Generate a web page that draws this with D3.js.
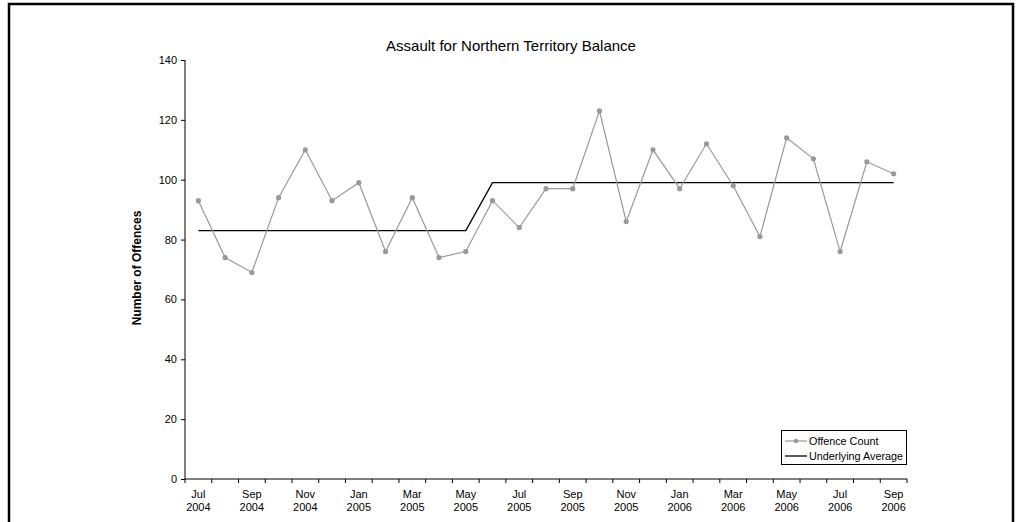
<!DOCTYPE html>
<html><head><meta charset="utf-8">
<script src="https://cdn.jsdelivr.net/npm/d3@7"></script>
<style>body{margin:0;background:#fff}svg{display:block;font-family:"Liberation Sans",Arial,sans-serif}</style>
</head><body><svg id="c" width="1021" height="522"></svg>
<script>
const months = ["Jul 2004","Aug 2004","Sep 2004","Oct 2004","Nov 2004","Dec 2004","Jan 2005","Feb 2005","Mar 2005","Apr 2005","May 2005","Jun 2005","Jul 2005","Aug 2005","Sep 2005","Oct 2005","Nov 2005","Dec 2005","Jan 2006","Feb 2006","Mar 2006","Apr 2006","May 2006","Jun 2006","Jul 2006","Aug 2006","Sep 2006"];
const offenceCount = [93,74,69,94,110,93,99,76,94,74,76,93,84,97,97,123,86,110,97,112,98,81,114,107,76,106,102];
const underlyingAverage = [83,83,83,83,83,83,83,83,83,83,83,99,99,99,99,99,99,99,99,99,99,99,99,99,99,99,99];
const yTicks = [0,20,40,60,80,100,120,140];
const title = "Assault for Northern Territory Balance";
const yLabel = "Number of Offences";

const svg = d3.select("#c");
// outer border
svg.append("rect").attr("x",9).attr("y",4).attr("width",1004).attr("height",530)
  .attr("fill","none").attr("stroke","#000").attr("stroke-width",2.5);

const L=185, R=907, T=60, B=479;
const x = d3.scaleBand().domain(months).range([L,R]).paddingInner(0).paddingOuter(0);
const xc = d => x(d) + x.bandwidth()/2;
const y = d3.scaleLinear().domain([0,140]).range([B,T]);

// y axis
const ya = svg.append("g").attr("transform",`translate(${L},0)`)
  .call(d3.axisLeft(y).tickValues(yTicks).tickSize(4).tickPadding(4));
ya.select(".domain").attr("stroke","#000").attr("d",`M0,${T}V${B}`);
ya.selectAll(".tick line").attr("stroke","#000");
ya.selectAll("text").attr("font-size","11px").attr("font-family","Liberation Sans, Arial").attr("fill","#000");

// x axis
const xa = svg.append("g").attr("transform",`translate(0,${B})`);
xa.append("line").attr("x1",L).attr("x2",R).attr("stroke","#000");
const tickPos = months.map(m=>x(m)).concat([R]);
xa.selectAll("line.t").data(tickPos).enter().append("line").attr("class","t")
  .attr("x1",d=>d).attr("x2",d=>d).attr("y1",0).attr("y2",4).attr("stroke","#000");
const lab = xa.selectAll("text.l").data(months.filter((m,i)=>i%2===0)).enter().append("text")
  .attr("class","l").attr("text-anchor","middle").attr("font-size","11px").attr("fill","#000");
lab.append("tspan").attr("x",d=>xc(d)).attr("y",19).text(d=>d.split(" ")[0]);
lab.append("tspan").attr("x",d=>xc(d)).attr("y",32).text(d=>d.split(" ")[1]);

// underlying average
svg.append("path").datum(underlyingAverage)
  .attr("fill","none").attr("stroke","#000").attr("stroke-width",1.3)
  .attr("d",d3.line().x((d,i)=>xc(months[i])).y(d=>y(d)));

// offence count
svg.append("path").datum(offenceCount)
  .attr("fill","none").attr("stroke","#999").attr("stroke-width",1.2)
  .attr("d",d3.line().x((d,i)=>xc(months[i])).y(d=>y(d)));
svg.selectAll("circle.p").data(offenceCount).enter().append("circle").attr("class","p")
  .attr("cx",(d,i)=>xc(months[i])).attr("cy",d=>y(d)).attr("r",2.6).attr("fill","#999");

// title
svg.append("text").attr("x",511).attr("y",51).attr("text-anchor","middle")
  .attr("font-size","15px").attr("fill","#000").text(title);
// y label
svg.append("text").attr("transform","translate(141,268) rotate(-90)").attr("text-anchor","middle")
  .attr("font-size","12px").attr("font-weight","bold").attr("fill","#000").text(yLabel);

// legend
const lg = svg.append("g");
lg.append("rect").attr("x",781.5).attr("y",430.5).attr("width",125).attr("height",34)
  .attr("fill","#fff").attr("stroke","#000").attr("stroke-width",1);
lg.append("line").attr("x1",785).attr("x2",807).attr("y1",441).attr("y2",441).attr("stroke","#999").attr("stroke-width",1.2);
lg.append("circle").attr("cx",796).attr("cy",441).attr("r",2.2).attr("fill","#999");
lg.append("text").attr("x",809).attr("y",445).attr("font-size","10.8px").attr("fill","#000").text("Offence Count");
lg.append("line").attr("x1",785).attr("x2",807).attr("y1",456).attr("y2",456).attr("stroke","#000").attr("stroke-width",1.3);
lg.append("text").attr("x",809).attr("y",460).attr("font-size","10.8px").attr("fill","#000").text("Underlying Average");
</script></body></html>
